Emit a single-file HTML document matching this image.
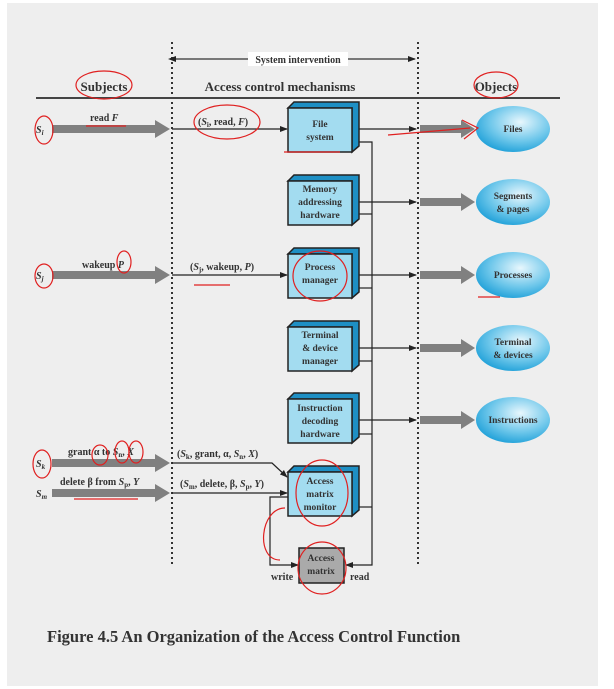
<!DOCTYPE html>
<html><head><meta charset="utf-8"><style>
body{margin:0;background:#fff;width:614px;height:689px;overflow:hidden}
svg{display:block}
text{font-family:"Liberation Serif",serif;font-weight:bold;fill:#333}
</style></head><body>
<svg width="614" height="689" viewBox="0 0 614 689" xmlns="http://www.w3.org/2000/svg">
<defs>
<marker id="a" markerWidth="8" markerHeight="8" refX="7" refY="4" orient="auto" markerUnits="userSpaceOnUse"><path d="M0,1 L8,4 L0,7 z" fill="#222"/></marker>
<marker id="as" markerWidth="8" markerHeight="8" refX="1" refY="4" orient="auto-start-reverse" markerUnits="userSpaceOnUse"><path d="M0,1 L8,4 L0,7 z" fill="#222"/></marker>
<radialGradient id="g" cx="0.6" cy="0.35" r="0.7"><stop offset="0" stop-color="#e8f7fd"/><stop offset="0.6" stop-color="#6cc6ea"/><stop offset="1" stop-color="#1d9fd8"/></radialGradient>
</defs>
<rect x="7" y="3" width="591" height="683" fill="#eeeeee"/>
<!-- dotted lines -->
<line x1="172" y1="42" x2="172" y2="565" stroke="#333" stroke-width="2" stroke-dasharray="2,3"/>
<line x1="418" y1="42" x2="418" y2="565" stroke="#333" stroke-width="2" stroke-dasharray="2,3"/>
<line x1="175" y1="59" x2="415" y2="59" stroke="#333" stroke-width="1.2" marker-start="url(#as)" marker-end="url(#a)"/>
<rect x="248" y="52" width="100" height="14" fill="#fff"/>
<text x="298" y="63" font-size="10" text-anchor="middle">System intervention</text>
<text x="104" y="91" font-size="13" text-anchor="middle">Subjects</text>
<text x="280" y="91" font-size="13" text-anchor="middle">Access control mechanisms</text>
<text x="496" y="91" font-size="13" text-anchor="middle">Objects</text>
<line x1="36" y1="98" x2="560" y2="98" stroke="#444" stroke-width="2"/>
<g id="vline"><path d="M359,142 H372 V565 H346" fill="none" stroke="#222" stroke-width="1.2" marker-end="url(#a)"/></g>
<g stroke="#222" stroke-width="1.2" fill="none">
<path d="M359,214 H372"/><path d="M359,288 H372"/><path d="M359,361 H372"/><path d="M359,434 H372"/><path d="M359,507 H372"/>
<path d="M288,497 H270 V565 H298" marker-end="url(#a)"/>
<path d="M172,129 H287" marker-end="url(#a)"/>
<path d="M172,275 H287" marker-end="url(#a)"/>
<path d="M172,463 H272 L287,477" marker-end="url(#a)"/>
<path d="M172,493 H287" marker-end="url(#a)"/>
<path d="M359,129 H416" marker-end="url(#a)"/>
<path d="M359,202 H416" marker-end="url(#a)"/>
<path d="M359,275 H416" marker-end="url(#a)"/>
<path d="M359,348 H416" marker-end="url(#a)"/>
<path d="M359,420 H416" marker-end="url(#a)"/>
</g>
<!-- thick gray arrows left -->
<g fill="#808080">
<path d="M52,125 H155 V120 L170,129 L155,138 V133 H52z"/>
<path d="M52,271 H155 V266 L170,275 L155,284 V279 H52z"/>
<path d="M52,459 H155 V454 L170,463 L155,472 V467 H52z"/>
<path d="M52,489 H155 V484 L170,493 L155,502 V497 H52z"/>
</g>
<g fill="#808080">
<path d="M420,125 H461 V120 L475,129 L461,138 V133 H420z"/>
<path d="M420,198 H461 V193 L475,202 L461,211 V206 H420z"/>
<path d="M420,271 H461 V266 L475,275 L461,284 V279 H420z"/>
<path d="M420,344 H461 V339 L475,348 L461,357 V352 H420z"/>
<path d="M420,416 H461 V411 L475,420 L461,429 V424 H420z"/>
</g>
<!-- labels left -->
<g font-size="10">
<text x="36" y="133" font-style="italic">S<tspan font-size="7" dy="2">i</tspan></text>
<text x="90" y="121">read <tspan font-style="italic">F</tspan></text>
<text x="36" y="279" font-style="italic">S<tspan font-size="7" dy="2">j</tspan></text>
<text x="82" y="268">wakeup <tspan font-style="italic">P</tspan></text>
<text x="36" y="467" font-style="italic">S<tspan font-size="7" dy="2">k</tspan></text>
<text x="68" y="455">grant α to <tspan font-style="italic">S</tspan><tspan font-size="7" dy="2">n</tspan><tspan dy="-2">, </tspan><tspan font-style="italic">X</tspan></text>
<text x="36" y="497" font-style="italic">S<tspan font-size="7" dy="2">m</tspan></text>
<text x="60" y="485">delete β from <tspan font-style="italic">S</tspan><tspan font-size="7" dy="2">p</tspan><tspan dy="-2">, </tspan><tspan font-style="italic">Y</tspan></text>
<text x="198" y="125">(<tspan font-style="italic">S</tspan><tspan font-size="7" dy="2">i</tspan><tspan dy="-2">, read, </tspan><tspan font-style="italic">F</tspan>)</text>
<text x="190" y="270">(<tspan font-style="italic">S</tspan><tspan font-size="7" dy="2">j</tspan><tspan dy="-2">, wakeup, </tspan><tspan font-style="italic">P</tspan>)</text>
<text x="177" y="457">(<tspan font-style="italic">S</tspan><tspan font-size="7" dy="2">k</tspan><tspan dy="-2">, grant, α, </tspan><tspan font-style="italic">S</tspan><tspan font-size="7" dy="2">n</tspan><tspan dy="-2">, </tspan><tspan font-style="italic">X</tspan>)</text>
<text x="180" y="487">(<tspan font-style="italic">S</tspan><tspan font-size="7" dy="2">m</tspan><tspan dy="-2">, delete, β, </tspan><tspan font-style="italic">S</tspan><tspan font-size="7" dy="2">p</tspan><tspan dy="-2">, </tspan><tspan font-style="italic">Y</tspan>)</text>
<text x="271" y="580">write</text>
<text x="350" y="580">read</text>
</g>
<!-- boxes -->
<g stroke="#222" stroke-width="1.5">
<g id="b1"><path d="M288,108 L294,102 H359 V146 L352,152 V108z" fill="#1e8fc4"/><rect x="288" y="108" width="64" height="44" fill="#a3dcf0"/></g>
<g transform="translate(0,73)"><path d="M288,108 L294,102 H359 V146 L352,152 V108z" fill="#1e8fc4"/><rect x="288" y="108" width="64" height="44" fill="#a3dcf0"/></g>
<g transform="translate(0,146)"><path d="M288,108 L294,102 H359 V146 L352,152 V108z" fill="#1e8fc4"/><rect x="288" y="108" width="64" height="44" fill="#a3dcf0"/></g>
<g transform="translate(0,219)"><path d="M288,108 L294,102 H359 V146 L352,152 V108z" fill="#1e8fc4"/><rect x="288" y="108" width="64" height="44" fill="#a3dcf0"/></g>
<g transform="translate(0,291)"><path d="M288,108 L294,102 H359 V146 L352,152 V108z" fill="#1e8fc4"/><rect x="288" y="108" width="64" height="44" fill="#a3dcf0"/></g>
<g transform="translate(0,364)"><path d="M288,108 L294,102 H359 V146 L352,152 V108z" fill="#1e8fc4"/><rect x="288" y="108" width="64" height="44" fill="#a3dcf0"/></g>
<rect x="299" y="548" width="45" height="35" fill="#aaaaaa"/>
</g>
<g font-size="9.5" text-anchor="middle">
<text x="320" y="127">File</text><text x="320" y="140">system</text>
<text x="320" y="192">Memory</text><text x="320" y="205">addressing</text><text x="320" y="218">hardware</text>
<text x="320" y="270">Process</text><text x="320" y="283">manager</text>
<text x="320" y="338">Terminal</text><text x="320" y="351">&amp; device</text><text x="320" y="364">manager</text>
<text x="320" y="411">Instruction</text><text x="320" y="424">decoding</text><text x="320" y="437">hardware</text>
<text x="320" y="484">Access</text><text x="320" y="497">matrix</text><text x="320" y="510">monitor</text>
<text x="321" y="561">Access</text><text x="321" y="574">matrix</text>
</g>
<!-- ellipses -->
<g fill="url(#g)">
<ellipse cx="513" cy="129" rx="37" ry="23"/><ellipse cx="513" cy="202" rx="37" ry="23"/><ellipse cx="513" cy="275" rx="37" ry="23"/><ellipse cx="513" cy="348" rx="37" ry="23"/><ellipse cx="513" cy="420" rx="37" ry="23"/>
</g>
<g font-size="9.5" text-anchor="middle">
<text x="513" y="132">Files</text>
<text x="513" y="199">Segments</text><text x="513" y="212">&amp; pages</text>
<text x="513" y="278">Processes</text>
<text x="513" y="345">Terminal</text><text x="513" y="358">&amp; devices</text>
<text x="513" y="423">Instructions</text>
</g>
<!-- red annotations -->
<g fill="none" stroke="#e02020" stroke-width="1.2">
<ellipse cx="104" cy="85" rx="28" ry="14"/>
<ellipse cx="496" cy="85" rx="22" ry="13"/>
<ellipse cx="44" cy="130" rx="9" ry="14"/>
<ellipse cx="227" cy="122" rx="33" ry="17"/>
<path d="M86,126 H126 M284,152 H340 M388,135 L470,128 M462,120 L478,128 L464,139"/>
<ellipse cx="44" cy="276" rx="9" ry="12"/>
<ellipse cx="124" cy="262" rx="7" ry="11"/>
<path d="M194,285 H230 M478,297 H500"/>
<ellipse cx="320" cy="276" rx="27" ry="25"/>
<ellipse cx="42" cy="464" rx="9" ry="14"/>
<ellipse cx="100" cy="455" rx="8" ry="10"/><ellipse cx="122" cy="452" rx="7" ry="11"/><ellipse cx="136" cy="452" rx="7" ry="11"/>
<path d="M74,499 H138"/>
<ellipse cx="322" cy="493" rx="26" ry="33"/>
<path d="M285,508 C260,508 255,560 280,560"/>
<ellipse cx="322" cy="568" rx="24" ry="26"/>
</g>
<text x="47" y="642" font-size="16.5" fill="#2a2a2a">Figure 4.5   An Organization of the Access Control Function</text>
</svg>
</body></html>
